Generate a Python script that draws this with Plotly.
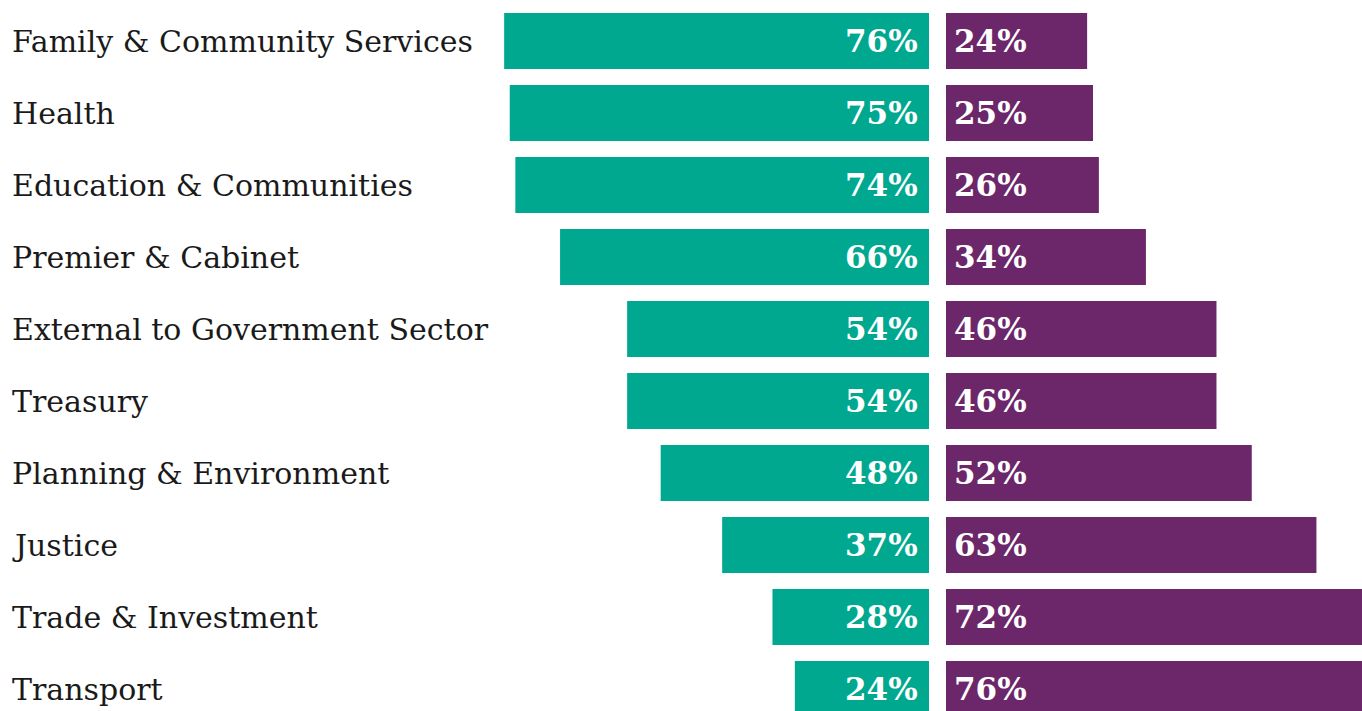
import plotly.graph_objects as go

categories = [
    "Family & Community Services",
    "Health",
    "Education & Communities",
    "Premier & Cabinet",
    "External to Government Sector",
    "Treasury",
    "Planning & Environment",
    "Justice",
    "Trade & Investment",
    "Transport",
]
green_values = [76, 75, 74, 66, 54, 54, 48, 37, 28, 24]
purple_values = [24, 25, 26, 34, 46, 46, 52, 63, 72, 76]

GREEN = "#00A88F"
PURPLE = "#6B2769"
LABEL_FONT = "DejaVu Serif"

W, H = 1362, 711

fig = go.Figure()
fig.add_trace(go.Bar(
    y=categories, x=green_values, orientation="h",
    marker=dict(color=GREEN, line=dict(width=0)),
    xaxis="x", yaxis="y", hoverinfo="skip", showlegend=False,
))
fig.add_trace(go.Bar(
    y=categories, x=purple_values, orientation="h",
    marker=dict(color=PURPLE, line=dict(width=0)),
    xaxis="x2", yaxis="y", hoverinfo="skip", showlegend=False,
))

annotations = []
for cat, g, p in zip(categories, green_values, purple_values):
    annotations.append(dict(
        x=0, y=cat, xref="paper", yref="y", xanchor="left", yanchor="middle",
        xshift=10, text=cat, showarrow=False,
        font=dict(family=LABEL_FONT, size=30, color="#1a1a1a"),
    ))
    annotations.append(dict(
        x=0, y=cat, xref="x", yref="y", xanchor="right", yanchor="middle",
        xshift=-9, text=f"<b>{g}%</b>", showarrow=False,
        font=dict(family=LABEL_FONT, size=31, color="white"),
    ))
    annotations.append(dict(
        x=0, y=cat, xref="x2", yref="y", xanchor="left", yanchor="middle",
        xshift=6, text=f"<b>{p}%</b>", showarrow=False,
        font=dict(family=LABEL_FONT, size=31, color="white"),
    ))

green_scale = 5.59
purple_scale = 5.88
left_end = 929
right_start = 946
pitch = 72
first_center = 41
r_top = -first_center / pitch
r_bottom = r_top + H / pitch

fig.update_layout(
    width=W, height=H,
    margin=dict(l=0, r=0, t=0, b=0, pad=0),
    paper_bgcolor="white", plot_bgcolor="white",
    bargap=1 - 56 / pitch,
    xaxis=dict(domain=[0, left_end / W], range=[left_end / green_scale, 0],
               visible=False, fixedrange=True),
    xaxis2=dict(domain=[right_start / W, 1], range=[0, (W - right_start) / purple_scale],
                visible=False, fixedrange=True),
    yaxis=dict(range=[r_bottom, r_top], visible=False, fixedrange=True,
               categoryorder="array", categoryarray=categories),
    annotations=annotations,
)

fig.write_html(
    "out.html",
    config={"displayModeBar": False},
    post_script="document.body.style.margin='0';document.body.style.overflow='hidden';",
)
